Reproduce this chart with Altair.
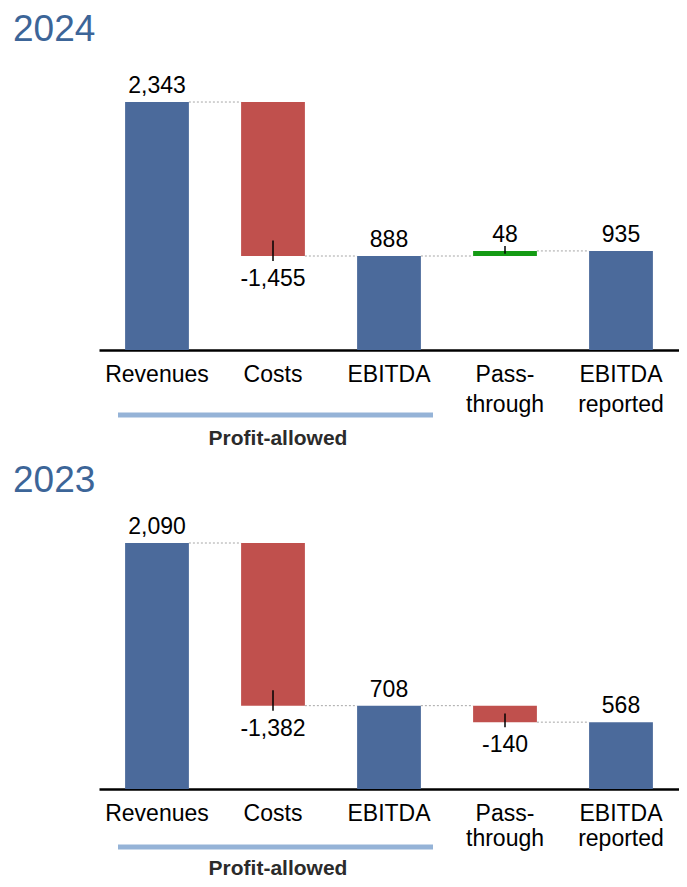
import altair as alt
import pandas as pd

# ---------------- data ----------------
categories = ["Revenues", "Costs", "EBITDA", "Pass-through", "EBITDA reported"]
tick_labels = [["Revenues"], ["Costs"], ["EBITDA"], ["Pass-", "through"], ["EBITDA", "reported"]]
kinds = ["total", "delta", "total", "delta", "total"]
values_2024 = [2343, -1455, 888, 48, 935]
values_2023 = [2090, -1382, 708, -140, 568]
years = ["2024", "2023"]
bracket_label = "Profit-allowed"
bracket_from = "Revenues"
bracket_to = "EBITDA"

# ---------------- style ----------------
FONT = "Liberation Sans, Arial, sans-serif"
BLUE = "#4B6A9B"
RED = "#C0504D"
GREEN = "#149B14"
TITLE_C = "#3C6598"
BRACKET_C = "#95B3D7"
CONN_C = "#A6A6A6"

label_expr = ""
for c, parts in zip(categories, tick_labels):
    if len(parts) > 1:
        arr = "[" + ",".join("'" + p + "'" for p in parts) + "]"
        label_expr += f"datum.value == '{c}' ? {arr} : "
label_expr += "datum.label"


def frames(values):
    rows = []
    level = 0
    for i, (c, k, v) in enumerate(zip(categories, kinds, values)):
        if k == "total":
            start, end = 0, v
        else:
            start, end = level, level + v
        level = end
        kind = "total" if k == "total" else ("neg" if v < 0 else "pos")
        rows.append(dict(cat=c, start=start, end=end, value=v, kind=kind,
                         label=f"{v:,}", level=level,
                         next=categories[i + 1] if i + 1 < len(categories) else None,
                         delta=(k != "total")))
    return pd.DataFrame(rows)


def panel(year, values, width, height, ymax, line_h, bracket_dy, text_dy):
    df = frames(values)
    ppu = height / ymax
    bw = width / 5 * 0.55

    x_scale = alt.Scale(domain=categories, paddingInner=0.45, paddingOuter=0.225)
    x_axis = alt.Axis(title=None, labelExpr=label_expr, labelFontSize=23, labelFont=FONT,
                      labelColor="black", labelAngle=0, labelPadding=13,
                      labelLineHeight=line_h, ticks=False, tickSize=0,
                      domainColor="black", domainWidth=2.5, grid=False)
    x = alt.X("cat:N", sort=categories, scale=x_scale, axis=x_axis)
    y_scale = alt.Scale(domain=[0, ymax], nice=False, zero=True)

    bars = alt.Chart(df).mark_bar().encode(
        x=x,
        y=alt.Y("start:Q", scale=y_scale, axis=None),
        y2="end:Q",
        color=alt.Color("kind:N", scale=alt.Scale(domain=["total", "neg", "pos"],
                                                  range=[BLUE, RED, GREEN]), legend=None),
    )

    conn_df = df[df["next"].notna()][["cat", "next", "level"]]
    conn = alt.Chart(conn_df).mark_rule(
        color=CONN_C, strokeDash=[2, 2], strokeWidth=1, xOffset=bw / 2, x2Offset=-bw / 2
    ).encode(x=x, x2="next:N", y=alt.Y("level:Q", scale=y_scale, axis=None))

    # leader ticks on change bars
    tdf = df[df["delta"]].copy()
    sgn = tdf["value"].apply(lambda v: 1 if v > 0 else -1)
    out_u = 5 / ppu
    in_u = tdf["value"].abs().apply(lambda a: min(15.5 / ppu, 0.53 * a))
    tdf["t1"] = tdf["end"] + sgn * out_u
    tdf["t2"] = tdf["end"] - sgn * in_u
    ticks = alt.Chart(tdf).mark_rule(color="black", strokeWidth=1.5).encode(
        x=x, y=alt.Y("t1:Q", scale=y_scale, axis=None), y2="t2:Q"
    )

    lab_up = alt.Chart(df).transform_filter("datum.value >= 0").mark_text(
        fontSize=23, font=FONT, baseline="alphabetic", dy=-9, color="black"
    ).encode(x=x, y=alt.Y("end:Q", scale=y_scale, axis=None), text="label:N")
    lab_dn = alt.Chart(df).transform_filter("datum.value < 0").mark_text(
        fontSize=23, font=FONT, baseline="alphabetic", dy=30, color="black"
    ).encode(x=x, y=alt.Y("end:Q", scale=y_scale, axis=None), text="label:N")

    br_df = pd.DataFrame({"cat": [bracket_from], "next": [bracket_to]})
    bracket = alt.Chart(br_df).mark_rule(
        color=BRACKET_C, strokeWidth=5, xOffset=-39, x2Offset=44
    ).encode(x=x, x2="next:N", y=alt.value(height + bracket_dy))

    br_txt_df = pd.DataFrame({"cat": ["Costs"], "txt": [bracket_label]})
    br_txt = alt.Chart(br_txt_df).mark_text(
        fontSize=21, font=FONT, fontWeight="bold", color="#2B2B2B", baseline="middle", dx=5
    ).encode(x=x, y=alt.value(height + text_dy), text="txt:N")

    return alt.layer(bars, conn, ticks, lab_up, lab_dn, bracket, br_txt).properties(
        width=width, height=height,
        title=alt.TitleParams(year, anchor="start", dx=-86, fontSize=37, font=FONT,
                              fontWeight="normal", color=TITLE_C, offset=11),
    )


p1 = panel(years[0], values_2024, 580, 290, 2740, 30, 65, 89)
p2 = panel(years[1], values_2023, 580, 278, 2362, 25, 58, 80)

chart = alt.vconcat(p1, p2, spacing=13).configure_view(stroke=None).properties(
    padding={"left": 5, "top": 3, "right": 0, "bottom": 0}
)

chart.save("out.html", embed_options={"renderer": "svg", "actions": False})
